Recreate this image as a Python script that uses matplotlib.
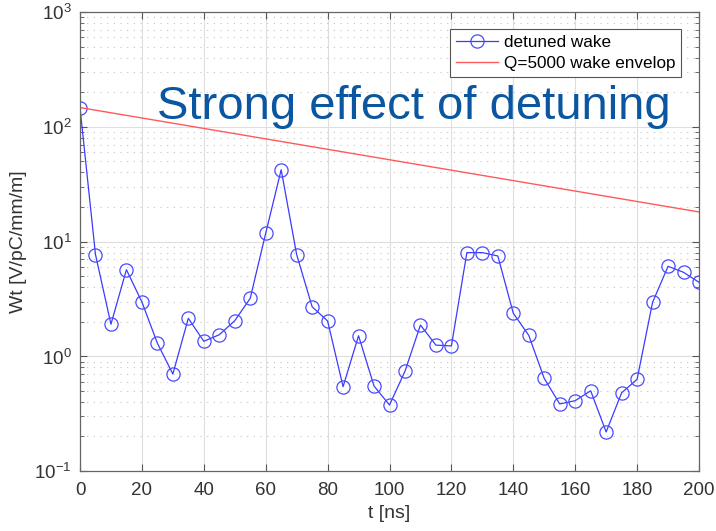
import matplotlib
matplotlib.use("Agg")
import matplotlib.pyplot as plt
import numpy as np

plt.rcParams['font.family'] = ['Liberation Sans', 'DejaVu Sans']
plt.rcParams['mathtext.fontset'] = 'custom'
plt.rcParams['mathtext.rm'] = 'Liberation Sans'

t_ns = [0, 5, 10, 15, 20, 25, 30, 35, 40, 45, 50, 55, 60, 65, 70, 75, 80, 85, 90, 95,
        100, 105, 110, 115, 120, 125, 130, 135, 140, 145, 150, 155, 160, 165, 170, 175,
        180, 185, 190, 195, 200]
wake = [147, 7.7, 1.90, 5.68, 2.97, 1.30, 0.70, 2.14, 1.35, 1.54, 2.04, 3.2, 11.8, 42.2,
        7.7, 2.70, 2.03, 0.543, 1.51, 0.55, 0.376, 0.74, 1.87, 1.25, 1.23, 8.0, 8.0, 7.48,
        2.37, 1.52, 0.64, 0.384, 0.41, 0.50, 0.219, 0.48, 0.63, 2.95, 6.08, 5.39, 4.41]
env_t = [0, 200]
env_w = [147, 18.1]

fig = plt.figure(figsize=(7.16, 5.31), dpi=100)
ax = fig.add_axes([80/716, 60/531, 619/716, 459/531])

ax.plot(t_ns, wake, '-o', color='#3b3bff', lw=0.9, markersize=9.5,
        markerfacecolor='none', markeredgecolor='#4a4aff', markeredgewidth=0.9,
        label='detuned wake')
ax.plot(env_t, env_w, '-', color='#ff5a5a', lw=1.0, label='Q=5000 wake envelop')

ax.set_yscale('log')
ax.set_xlim(0, 200)
ax.set_ylim(0.1, 1000)
ax.set_xticks(np.arange(0, 201, 20))
ax.set_yticks([0.1, 1, 10, 100, 1000])
ax.set_yticklabels([r'$10^{-1}$', r'$10^{0}$', r'$10^{1}$', r'$10^{2}$', r'$10^{3}$'])

ax.grid(True, which='major', color='#dedede', lw=0.8, ls='-')
ax.grid(True, which='minor', axis='y', color='#c4c4c4', lw=0.8, ls=(0, (1, 5)))
ax.set_axisbelow(True)

ax.tick_params(which='both', direction='in', top=True, right=True, color='#555555',
               labelsize=13.5, labelcolor='#333333')
ax.tick_params(which='major', length=5)
ax.tick_params(which='minor', length=3)
ax.tick_params(axis='x', which='major', pad=8)
ax.tick_params(axis='y', which='major', pad=6)
ax.tick_params(axis='x', which='minor', bottom=False, top=False)
for s in ax.spines.values():
    s.set_color('#666666')
    s.set_linewidth(0.9)

ax.set_xlabel('t [ns]', fontsize=14, color='#333333', labelpad=4)
ax.set_ylabel('Wt [V/pC/mm/m]', fontsize=14, color='#333333', labelpad=5)

leg = ax.legend(loc='upper right', bbox_to_anchor=(0.971, 0.963), fontsize=12.3,
                frameon=True, fancybox=False, edgecolor='#555555', framealpha=1,
                handlelength=2.5, borderpad=0.35, labelspacing=0.35, handletextpad=0.3,
                borderaxespad=0.0)
leg.get_frame().set_linewidth(0.8)

fig.text(414/716, 1 - 107/531, 'Strong effect of detuning', fontsize=34,
         color='#0a56a0', ha='center', va='center')

fig.savefig('out.png', dpi=100)
